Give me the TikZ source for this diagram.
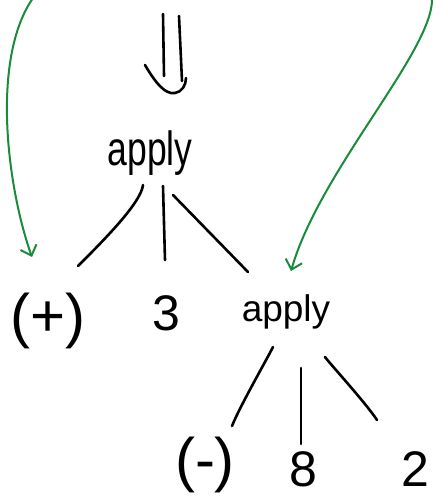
\documentclass[tikz,border=0pt]{standalone}
\usepackage{fontspec}
\usepackage{graphicx}
\setmainfont{Liberation Sans}
\usetikzlibrary{arrows.meta}
\definecolor{grn}{RGB}{25,140,60}
\begin{document}
\begin{tikzpicture}[x=1pt,y=-1pt,
  ink/.style={line width=2.6pt, line cap=round, black},
  link/.style={line width=2pt, line cap=round, grn, -{Straight Barb[length=9pt,width=17pt,line width=2pt]}},
  lbl/.style={anchor=base, inner sep=0pt, font=\fontsize{50}{56}\selectfont},
  big/.style={lbl, font=\fontsize{60}{66}\selectfont}]
\useasboundingbox (0,0) rectangle (443,498);
% nodes
\node[lbl, font=\fontsize{48}{52}\selectfont] (app1) at (150,165) {\scalebox{0.74}[1]{apply}};
\node[big] (plus) at (48,336) {(+)};
\node[lbl] (three) at (166,330) {3};
\node[lbl, font=\fontsize{37}{40}\selectfont] (app2) at (286,321) {apply};
\node[big] (minus) at (205,480) {(-)};
\node[lbl] (eight) at (303,486) {8};
\node[lbl] (two) at (415,486) {2};
% double arrow into top apply
\coordinate (dtop) at (171,14);
\draw[ink] ([shift={(-8,0)}]dtop) -- ([shift={(-7,62)}]dtop);
\draw[ink] ([shift={(8,2)}]dtop) -- ([shift={(11,67)}]dtop);
\draw[ink] ([shift={(-26,51)}]dtop) .. controls +(10,17) and +(-10,2) .. ([shift={(4,79)}]dtop)
  .. controls +(7,-1) and +(0,7) .. ([shift={(15,64)}]dtop);
% tree edges
\draw[ink] ([shift={(-7,20)}]app1.base) .. controls +(-2,18) and +(25,-25) .. ([shift={(30,-70)}]plus.base);
\draw[ink] ([shift={(13,21)}]app1.base) -- ([shift={(-1,-70)}]three.base);
\draw[ink] ([shift={(23,30)}]app1.base) -- ([shift={(-38,-49)}]app2.base);
\draw[ink] ([shift={(-13,26)}]app2.base) .. controls +(-6,12) and +(8,-20) .. ([shift={(27,-54)}]minus.base);
\draw[ink] ([shift={(15,47)}]app2.base) -- ([shift={(-2,-42)}]eight.base);
\draw[ink] ([shift={(39,36)}]app2.base) .. controls +(6,8) and +(-12,-18) .. ([shift={(-38,-66)}]two.base);
% green arrows from above
\coordinate (srcL) at (33,-2);
\coordinate (srcR) at (432,-2);
\draw[link] (srcL) .. controls (-10,60) and (8,190) .. ([shift={(-16,-79)}]plus.base);
\draw[link] (srcR) .. controls (434,50) and (320,170) .. ([shift={(5,-50)}]app2.base);
\end{tikzpicture}
\end{document}
